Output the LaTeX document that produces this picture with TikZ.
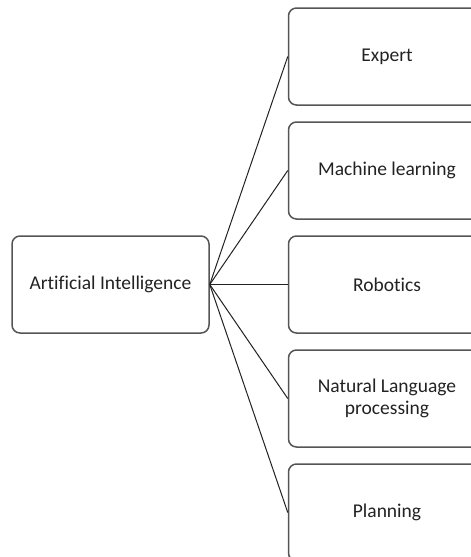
\documentclass[tikz,border=0pt]{standalone}
\usepackage{fontspec}
\setmainfont[Ligatures={NoCommon}]{Carlito}
\usetikzlibrary{positioning}
\definecolor{boxline}{HTML}{555555}
\definecolor{ink}{HTML}{222222}
\tikzset{x=1pt, y=1pt,
every node/.style={text=ink, font=\fontsize{19.5}{22}\selectfont},
topic/.style={draw=boxline, line width=1.5pt, rounded corners=8pt,
  minimum width=197pt, minimum height=97pt, align=center},
branch/.style={draw=ink, line width=1pt},
node distance=15.5pt,
}

\begin{document}
\begin{tikzpicture}
    \clip (0,0) rectangle (471,-557);
        \node[topic] (ai) at (110.5,-284.5) {Artificial Intelligence};
        \node[topic, right=78pt of ai] (robotics) {Robotics};
        \node[topic, above=of robotics] (ml) {Machine learning};
        \node[topic, above=of ml] (expert) {Expert};
        \node[topic, below=of robotics] (nlp) {Natural Language\\processing};
        \node[topic, below=of nlp] (planning) {Planning};
        \foreach \t in {expert, ml, robotics, nlp, planning}
            \draw[branch] (ai.east) -- (\t.west);
    \end{tikzpicture}
\end{document}
